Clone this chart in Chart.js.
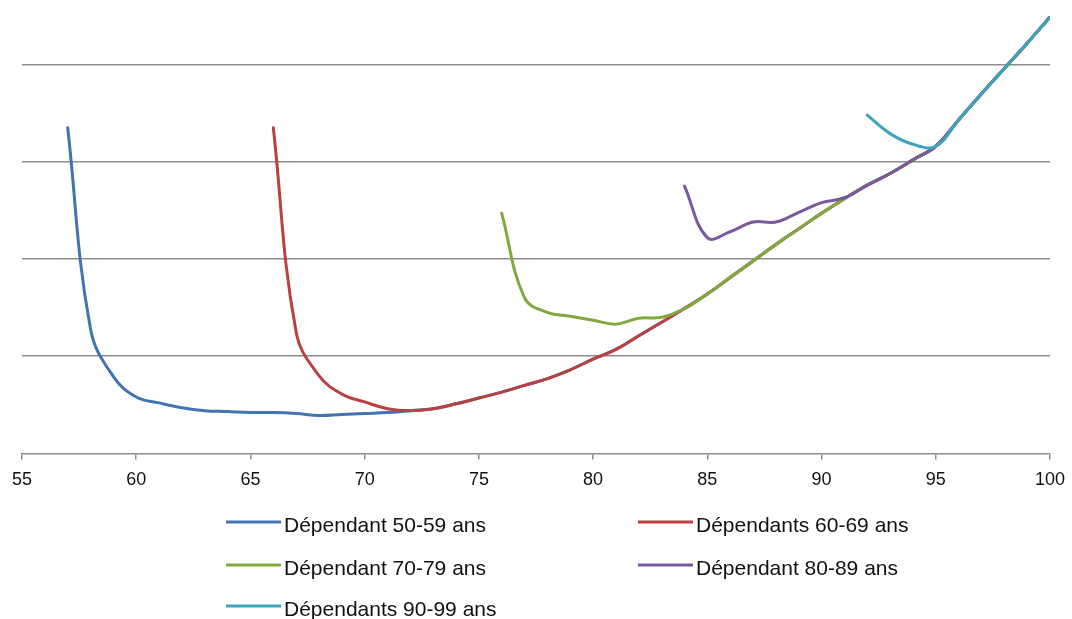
<!DOCTYPE html>
<html><head><meta charset="utf-8">
<script src="https://cdn.jsdelivr.net/npm/chart.js@4.4.1/dist/chart.umd.min.js"></script>
<style>html,body{margin:0;padding:0;background:#fff;}#wrap{width:1072px;height:619px;}</style>
</head><body><div id="wrap"><canvas id="c" width="1072" height="619"></canvas></div>
<script>
// ---- data ----
const xTickValues = [55, 60, 65, 70, 75, 80, 85, 90, 95, 100];
const seriesLabels = ["Dépendant 50-59 ans", "Dépendants 60-69 ans", "Dépendant 70-79 ans", "Dépendant 80-89 ans", "Dépendants 90-99 ans"];
const seriesColors = ["#4273b2", "#b9413f", "#82a840", "#7a5a9e", "#3ea3bb"];

const ages50 = [57,58,59,60,61,62,63,64,65,66,67,68,69,70,71,72,73,74,75,76,77,78,79,80,81,82,83,84,85,86,87,88,89,90,91,92,93,94,95,96,97,98,99,100];
const vals50 = [3.35,1.28,0.79,0.58,0.52,0.47,0.44,0.43,0.42,0.42,0.41,0.39,0.40,0.41,0.42,0.44,0.46,0.51,0.57,0.63,0.70,0.77,0.86,0.97,1.07,1.21,1.35,1.49,1.64,1.81,1.98,2.15,2.31,2.47,2.62,2.76,2.88,3.02,3.16,3.43,3.70,3.96,4.22,4.49];

const ages60 = [66,67,68,69,70,71,72,73,74,75,76,77,78,79,80,81,82,83,84,85,86,87,88,89,90,91,92,93,94,95,96,97,98,99,100];
const vals60 = [3.35,1.25,0.80,0.61,0.53,0.46,0.44,0.46,0.51,0.57,0.63,0.70,0.77,0.86,0.97,1.07,1.21,1.35,1.49,1.64,1.81,1.98,2.15,2.31,2.47,2.62,2.76,2.88,3.02,3.16,3.43,3.70,3.96,4.22,4.49];

const ages70 = [76,77,78,79,80,81,82,83,84,85,86,87,88,89,90,91,92,93,94,95,96,97,98,99,100];
const vals70 = [2.47,1.60,1.45,1.41,1.37,1.33,1.39,1.40,1.49,1.64,1.81,1.98,2.15,2.31,2.47,2.62,2.76,2.88,3.02,3.16,3.43,3.70,3.96,4.22,4.49];

const ages80 = [84,85,86,87,88,89,90,91,92,93,94,95,96,97,98,99,100];
const vals80 = [2.75,2.22,2.28,2.38,2.38,2.48,2.58,2.63,2.76,2.88,3.02,3.16,3.43,3.70,3.96,4.22,4.49];

const ages90 = [92,93,94,95,96,97,98,99,100];
const vals90 = [3.48,3.29,3.18,3.16,3.43,3.70,3.96,4.22,4.49];

const seriesAges = [ages50, ages60, ages70, ages80, ages90];
const seriesVals = [vals50, vals60, vals70, vals80, vals90];

// ---- chart ----
const FONT = '"Liberation Sans", Arial, sans-serif';
const datasets = seriesLabels.map((label, i) => ({
  label,
  data: seriesAges[i].map((a, k) => ({x: a, y: seriesVals[i][k]})),
  borderColor: seriesColors[i],
  backgroundColor: seriesColors[i],
  borderWidth: 3,
  pointRadius: 0,
  fill: false,
  tension: 0.4,
  borderCapStyle: 'round',
  borderJoinStyle: 'round',
  order: seriesLabels.length - 1 - i
}));

const legendLayout = { colX: [226, 638], rowY: [522, 565, 606], lineLen: 55, gap: 3 };
const customLegend = {
  id: 'customLegend',
  afterDraw(chart) {
    const ctx = chart.ctx;
    ctx.save();
    ctx.font = '21px ' + FONT;
    ctx.textBaseline = 'alphabetic';
    chart.data.datasets.forEach((ds, i) => {
      const x = legendLayout.colX[i % 2];
      const y = legendLayout.rowY[Math.floor(i / 2)];
      ctx.strokeStyle = ds.borderColor;
      ctx.lineWidth = 3;
      ctx.beginPath();
      ctx.moveTo(x, y);
      ctx.lineTo(x + legendLayout.lineLen, y);
      ctx.stroke();
      ctx.fillStyle = '#111';
      ctx.fillText(ds.label, x + legendLayout.lineLen + legendLayout.gap, y + 10);
    });
    ctx.restore();
  }
};

new Chart(document.getElementById('c'), {
  type: 'line',
  data: { datasets },
  plugins: [customLegend],
  options: {
    responsive: false,
    animation: false,
    devicePixelRatio: 1,
    layout: { padding: { left: 22, right: 22, top: 16, bottom: 118 } },
    plugins: { legend: { display: false }, tooltip: { enabled: false } },
    scales: {
      x: {
        type: 'linear',
        min: 55, max: 100,
        afterBuildTicks: (scale) => { scale.ticks = xTickValues.map(v => ({value: v})); },
        afterFit: (scale) => { scale.paddingLeft = 0; scale.paddingRight = 0; },
        grid: { display: true, drawOnChartArea: false, drawTicks: true, tickLength: 6, color: '#8c8c8c', lineWidth: 1.5 },
        border: { display: true, color: '#8c8c8c', width: 1.5 },
        ticks: { color: '#111', font: { family: FONT, size: 18 }, padding: 10, maxRotation: 0, autoSkip: false }
      },
      y: {
        type: 'linear',
        min: 0, max: 4.5,
        ticks: { display: false, stepSize: 1 },
        grid: {
          drawTicks: false,
          lineWidth: 1.5,
          color: (c) => (c.tick && (c.tick.value > 4.01 || c.tick.value < 0.01)) ? 'rgba(0,0,0,0)' : '#8c8c8c'
        },
        border: { display: false }
      }
    }
  }
});
</script>
</body></html>
